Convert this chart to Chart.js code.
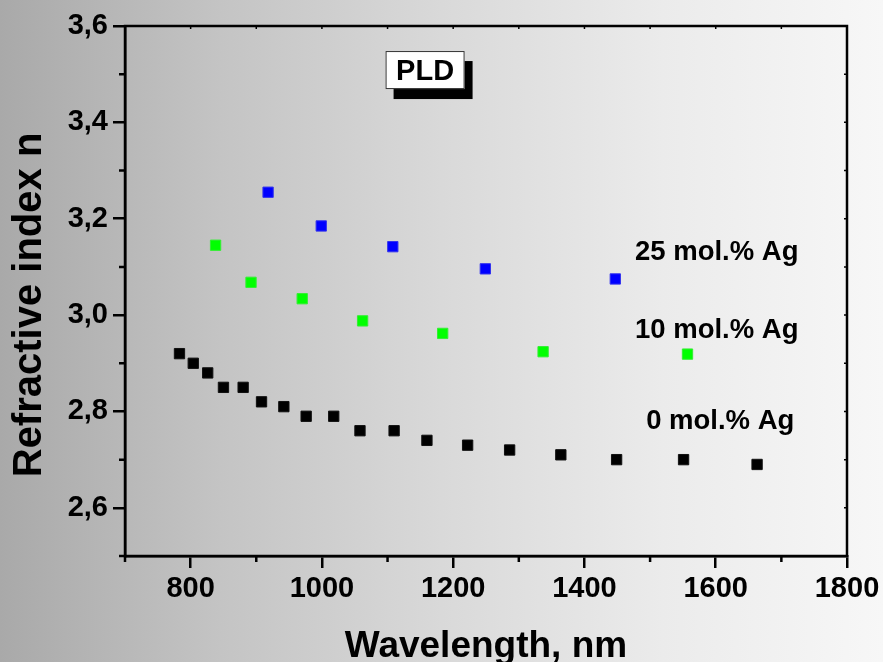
<!DOCTYPE html>
<html>
<head>
<meta charset="utf-8">
<script src="https://cdn.jsdelivr.net/npm/chart.js@4.4.1/dist/chart.umd.min.js"></script>
<style>
  html, body { margin: 0; padding: 0; }
  body {
    width: 883px; height: 662px; overflow: hidden;
    background: linear-gradient(90deg, #a9a9a9 0%, #c4c4c4 25%, #d9d9d9 50%, #ebebeb 75%, #f7f7f7 100%);
  }
  canvas { display: block; }
</style>
</head>
<body>
<canvas id="c" width="883" height="662"></canvas>
<script>
// ---- data ----
const wl0 = [783, 804, 826, 850, 880, 908, 942, 976, 1018, 1058, 1110, 1160, 1222, 1286, 1364, 1449, 1551, 1663];
const n0  = [2.92, 2.90, 2.88, 2.85, 2.85, 2.82, 2.81, 2.79, 2.79, 2.76, 2.76, 2.74, 2.73, 2.72, 2.71, 2.70, 2.70, 2.69];
const wl10 = [838, 892, 970, 1062, 1184, 1337, 1557];
const n10  = [3.145, 3.068, 3.034, 2.988, 2.962, 2.924, 2.919];
const wl25 = [918, 999, 1108, 1249, 1447];
const n25  = [3.255, 3.185, 3.142, 3.096, 3.075];
const seriesNames = ['0 mol.% Ag', '10 mol.% Ag', '25 mol.% Ag'];
const xTickValues = [800, 1000, 1200, 1400, 1600, 1800];
const yTickValues = [2.6, 2.8, 3.0, 3.2, 3.4, 3.6];
const xMinorValues = [700, 900, 1100, 1300, 1500, 1700];
const yMinorValues = [2.5, 2.7, 2.9, 3.1, 3.3, 3.5];
const xAxisTitle = 'Wavelength, nm';
const yAxisTitle = 'Refractive index n';
const boxLabel = 'PLD';

const toPts = (xs, ys) => xs.map((x, i) => ({ x: x, y: ys[i] }));
const FONT = '"Liberation Sans", Arial, sans-serif';

// label anchors (data units) for the in-plot texts
const seriesLabelAnchors = [
  { x: 1494, y: 2.763 },
  { x: 1477, y: 2.953 },
  { x: 1477, y: 3.115 }
];

const decorPlugin = {
  id: 'decor',
  afterDraw(chart) {
    const ctx = chart.ctx;
    const xs = chart.scales.x, ys = chart.scales.y;
    const a = chart.chartArea;
    ctx.save();
    ctx.strokeStyle = '#000';
    ctx.lineWidth = 2.5;
    // frame
    ctx.strokeRect(a.left, a.top, a.right - a.left, a.bottom - a.top);
    // minor ticks outward on bottom / left
    ctx.beginPath();
    xMinorValues.forEach(v => {
      const px = xs.getPixelForValue(v);
      ctx.moveTo(px, a.bottom); ctx.lineTo(px, a.bottom + 6);
    });
    yMinorValues.forEach(v => {
      const py = ys.getPixelForValue(v);
      ctx.moveTo(a.left, py); ctx.lineTo(a.left - 6, py);
    });
    ctx.stroke();
    // small inward ticks on top / right
    ctx.lineWidth = 1.5;
    ctx.beginPath();
    xMinorValues.concat(xTickValues).forEach(v => {
      const px = xs.getPixelForValue(v);
      ctx.moveTo(px, a.top); ctx.lineTo(px, a.top + 3);
    });
    yMinorValues.concat(yTickValues).forEach(v => {
      const py = ys.getPixelForValue(v);
      ctx.moveTo(a.right, py); ctx.lineTo(a.right - 3, py);
    });
    ctx.stroke();

    // y axis title (rotated)
    ctx.save();
    ctx.fillStyle = '#000';
    ctx.font = 'bold 40px ' + FONT;
    ctx.textAlign = 'center';
    ctx.textBaseline = 'middle';
    ctx.translate(30, ys.getPixelForValue(3.021));
    ctx.rotate(-Math.PI / 2);
    ctx.fillText(yAxisTitle, 0, 0);
    ctx.restore();

    // series labels
    ctx.fillStyle = '#000';
    ctx.font = 'bold 27.5px ' + FONT;
    ctx.textAlign = 'left';
    ctx.textBaseline = 'alphabetic';
    seriesNames.forEach((name, i) => {
      const p = seriesLabelAnchors[i];
      ctx.fillText(name, xs.getPixelForValue(p.x), ys.getPixelForValue(p.y));
    });

    // PLD box with shadow
    const bx = xs.getPixelForValue(1097), by = ys.getPixelForValue(3.548);
    const bw = 79, bh = 38;
    ctx.fillStyle = '#000';
    ctx.fillRect(bx + 8, by + 10, bw, bh);
    ctx.fillStyle = '#fff';
    ctx.fillRect(bx, by, bw, bh);
    ctx.lineWidth = 1;
    ctx.strokeStyle = '#333';
    ctx.strokeRect(bx + 0.5, by + 0.5, bw - 1, bh - 1);
    ctx.fillStyle = '#000';
    ctx.font = 'bold 29px ' + FONT;
    ctx.textAlign = 'center';
    ctx.textBaseline = 'alphabetic';
    ctx.fillText(boxLabel, bx + bw / 2, by + bh / 2 + 10);
    ctx.restore();
  }
};

const pointCommon = { pointStyle: 'rect', pointRadius: 7.3, pointHoverRadius: 7.3, borderWidth: 1, showLine: false };

new Chart(document.getElementById('c'), {
  type: 'scatter',
  data: {
    datasets: [
      Object.assign({ label: seriesNames[0], data: toPts(wl0, n0), backgroundColor: '#000000', borderColor: '#111111' }, pointCommon),
      Object.assign({ label: seriesNames[1], data: toPts(wl10, n10), backgroundColor: '#00ff00', borderColor: '#33ee33' }, pointCommon),
      Object.assign({ label: seriesNames[2], data: toPts(wl25, n25), backgroundColor: '#0000ff', borderColor: '#3333ee' }, pointCommon)
    ]
  },
  options: {
    responsive: false,
    animation: false,
    layout: { padding: { left: 0, top: 26, right: 36, bottom: 0 } },
    plugins: { legend: { display: false }, tooltip: { enabled: false } },
    scales: {
      x: {
        type: 'linear', min: 700, max: 1800,
        afterBuildTicks: s => { s.ticks = xTickValues.map(v => ({ value: v })); },
        afterFit: s => { s.height = 106; s.paddingLeft = 0; s.paddingRight = 0; },
        ticks: { color: '#000', font: { family: FONT, size: 29, weight: 'bold', lineHeight: 1 }, padding: 6, maxRotation: 0, autoSkip: false,
                 callback: v => String(v) },
        grid: { drawOnChartArea: false, drawTicks: true, tickLength: 12, color: '#000', lineWidth: 2.5 },
        border: { display: true, color: '#000', width: 2.5 },
        title: { display: true, text: xAxisTitle, color: '#000', font: { family: FONT, size: 37, weight: 'bold', lineHeight: 1 }, padding: { top: 0, bottom: -3 } }
      },
      y: {
        type: 'linear', min: 2.5, max: 3.6,
        afterBuildTicks: s => { s.ticks = yTickValues.map(v => ({ value: v })); },
        afterFit: s => { s.width = 125; s.paddingTop = 0; s.paddingBottom = 0; },
        ticks: { color: '#000', font: { family: FONT, size: 29, weight: 'bold' }, padding: 5, autoSkip: false,
                 callback: v => Number(v).toFixed(1).replace('.', ',') },
        grid: { drawOnChartArea: false, drawTicks: true, tickLength: 12, color: '#000', lineWidth: 2.5 },
        border: { display: true, color: '#000', width: 2.5 },
        title: { display: false, text: yAxisTitle }
      }
    }
  },
  plugins: [decorPlugin]
});
</script>
</body>
</html>
